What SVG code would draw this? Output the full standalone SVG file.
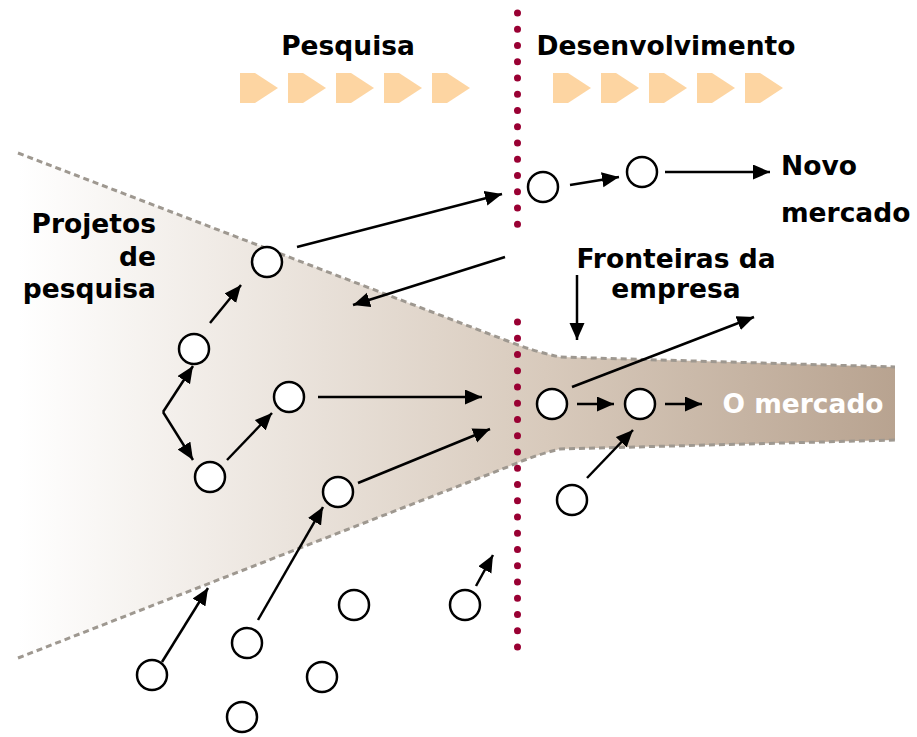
<svg xmlns="http://www.w3.org/2000/svg" width="917" height="737" viewBox="0 0 917 737">
<style>
.t{font-family:"DejaVu Sans","Liberation Sans",sans-serif;font-weight:bold;font-size:26.5px;fill:#000}
.n{fill:#fff;stroke:#000;stroke-width:2.5}
.c{stroke:#000;stroke-width:2.5;fill:none;marker-end:url(#ah)}
.edge{fill:none;stroke:#9e9890;stroke-width:3;stroke-dasharray:6 4}
.chev{fill:#fdd5a2}
.dots{stroke:#990033;stroke-width:7;stroke-linecap:round;stroke-dasharray:0 16.25}
</style>
<defs>
<linearGradient id="fg" gradientUnits="userSpaceOnUse" x1="18" y1="0" x2="895" y2="0">
<stop offset="0" stop-color="#ffffff"/>
<stop offset="0.35" stop-color="#e8e0d8"/>
<stop offset="0.6" stop-color="#d8cabc"/>
<stop offset="1" stop-color="#b8a390"/>
</linearGradient>
<marker id="ah" markerUnits="userSpaceOnUse" markerWidth="18" markerHeight="16" refX="17" refY="7.5" orient="auto">
<path d="M0,0 L17,7.5 L0,15 z" fill="#000"/>
</marker>
<path id="chv" d="M0,0 L15,0 L38,15 L15,30 L0,30 z"/>
</defs>
<g id="funnel">
<path d="M18,153 L505,340 Q535,352 560,357 L895,367 L895,440 L560,449 Q535,455 510,466 L18,658 Z" fill="url(#fg)"/>
<path class="edge" d="M18,153 L505,340 Q535,352 560,357 L895,367"/>
<path class="edge" d="M18,658 L510,466 Q535,455 560,449 L895,440"/>
</g>
<g id="boundary">
<line class="dots" x1="517.5" y1="13" x2="517.5" y2="226"/>
<line class="dots" x1="517.5" y1="322" x2="517.5" y2="650"/>
</g>
<g id="phase-pesquisa">
<text class="t" x="348" y="55" text-anchor="middle">Pesquisa</text>
<use href="#chv" x="240" y="73" class="chev"/>
<use href="#chv" x="288" y="73" class="chev"/>
<use href="#chv" x="336" y="73" class="chev"/>
<use href="#chv" x="384" y="73" class="chev"/>
<use href="#chv" x="432" y="73" class="chev"/>
</g>
<g id="phase-desenvolvimento">
<text class="t" x="666" y="55" text-anchor="middle">Desenvolvimento</text>
<use href="#chv" x="553" y="73" class="chev"/>
<use href="#chv" x="601" y="73" class="chev"/>
<use href="#chv" x="649" y="73" class="chev"/>
<use href="#chv" x="697" y="73" class="chev"/>
<use href="#chv" x="745" y="73" class="chev"/>
</g>
<g id="label-projetos">
<text class="t" text-anchor="end" x="156" y="233">Projetos</text>
<text class="t" text-anchor="end" x="156" y="266">de</text>
<text class="t" text-anchor="end" x="156" y="298">pesquisa</text>
</g>
<g id="label-novo">
<text class="t" x="781" y="175">Novo</text>
<text class="t" x="781" y="222">mercado</text>
</g>
<g id="label-fronteiras">
<text class="t" x="676" y="268" text-anchor="middle">Fronteiras da</text>
<text class="t" x="676" y="298" text-anchor="middle">empresa</text>
</g>
<g id="label-mercado">
<text class="t" x="803" y="413" text-anchor="middle" style="fill:#fff">O mercado</text>
</g>
<g id="connectors">
<line class="c" x1="297" y1="247" x2="502" y2="194"/>
<line class="c" x1="505" y1="257" x2="353" y2="305"/>
<line class="c" x1="570" y1="185" x2="619" y2="177"/>
<line class="c" x1="665" y1="172" x2="770" y2="172"/>
<line class="c" x1="577" y1="275" x2="577" y2="340"/>
<line class="c" x1="572" y1="387" x2="754" y2="317"/>
<line class="c" x1="577" y1="404" x2="614" y2="404"/>
<line class="c" x1="665" y1="404" x2="702" y2="404"/>
<line class="c" x1="587" y1="478" x2="633" y2="430"/>
<line class="c" x1="318" y1="397" x2="482" y2="397"/>
<line class="c" x1="358" y1="483" x2="490" y2="429"/>
<line class="c" x1="227" y1="460" x2="272" y2="413"/>
<line class="c" x1="163" y1="412" x2="193" y2="366"/>
<line class="c" x1="163" y1="412" x2="193" y2="460"/>
<line class="c" x1="210" y1="323" x2="241" y2="285"/>
<line class="c" x1="162" y1="662" x2="208" y2="588"/>
<line class="c" x1="258" y1="620" x2="323" y2="507"/>
<line class="c" x1="476" y1="586" x2="493" y2="555"/>
</g>
<g id="node-1"><circle class="n" cx="267" cy="262" r="15"/></g>
<g id="node-2"><circle class="n" cx="194" cy="349" r="15"/></g>
<g id="node-3"><circle class="n" cx="289" cy="397" r="15"/></g>
<g id="node-4"><circle class="n" cx="210" cy="477" r="15"/></g>
<g id="node-5"><circle class="n" cx="338" cy="492" r="15"/></g>
<g id="node-6"><circle class="n" cx="543" cy="187" r="15"/></g>
<g id="node-7"><circle class="n" cx="642" cy="172" r="15"/></g>
<g id="node-8"><circle class="n" cx="552" cy="404" r="15"/></g>
<g id="node-9"><circle class="n" cx="640" cy="404" r="15"/></g>
<g id="node-10"><circle class="n" cx="572" cy="500" r="15"/></g>
<g id="node-11"><circle class="n" cx="152" cy="675" r="15"/></g>
<g id="node-12"><circle class="n" cx="247" cy="643" r="15"/></g>
<g id="node-13"><circle class="n" cx="354" cy="605" r="15"/></g>
<g id="node-14"><circle class="n" cx="322" cy="677" r="15"/></g>
<g id="node-15"><circle class="n" cx="242" cy="717" r="15"/></g>
<g id="node-16"><circle class="n" cx="465" cy="605" r="15"/></g>
</svg>
